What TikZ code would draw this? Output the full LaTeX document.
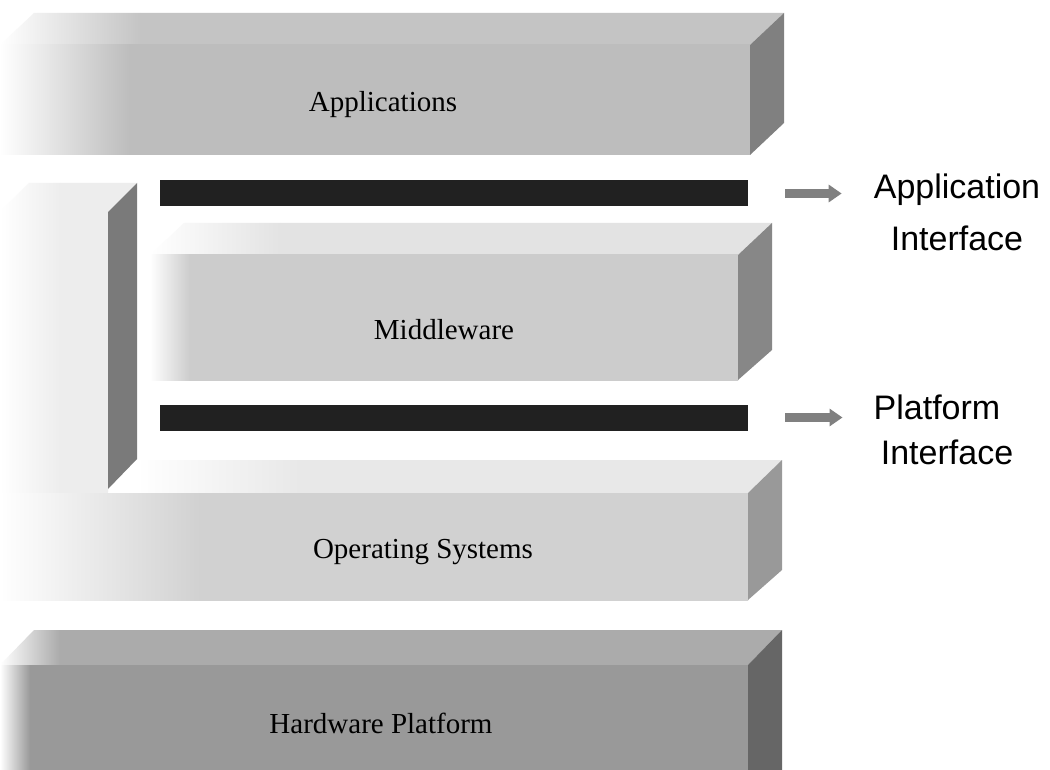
\documentclass[tikz,border=0pt]{standalone}
\usepackage{fontspec}
\setmainfont{Liberation Serif}
\newfontfamily\labelfont{Liberation Sans}
\usetikzlibrary{arrows.meta}

% grey levels of the layer faces
\definecolor{appfront}{gray}{0.74}
\definecolor{apptop}{gray}{0.77}
\definecolor{appside}{gray}{0.50}
\definecolor{midfront}{gray}{0.80}
\definecolor{midtop}{gray}{0.89}
\definecolor{midside}{gray}{0.53}
\definecolor{osfront}{gray}{0.82}
\definecolor{ostop}{gray}{0.91}
\definecolor{osside}{gray}{0.60}
\definecolor{colfront}{gray}{0.93}
\definecolor{colside}{gray}{0.48}
\definecolor{hwfront}{gray}{0.60}
\definecolor{hwtop}{gray}{0.67}
\definecolor{hwside}{gray}{0.40}
\definecolor{barfill}{gray}{0.13}
\definecolor{arrowfill}{gray}{0.50}

% fill a face, fading to white from x=#2 to x=#3 on its left end
\newcommand{\facefill}[4]{%
  \begin{scope}
    \clip #4;
    \shade[left color=white,right color=#1] (#2,0) rectangle (#3,770);
    \fill[#1] (#3,0) rectangle (1050,770);
    \fill[white] (-1,0) rectangle (#2,770);
  \end{scope}}

\tikzset{
  layertext/.style={font=\fontsize{29}{34}\selectfont, inner sep=0pt},
  ifacetext/.style={font=\labelfont\fontsize{34}{40}\selectfont, inner sep=0pt},
  ifacebar/.style={fill=barfill, draw=none, inner sep=0pt,
                   minimum width=588pt, minimum height=26pt},
  ifacearrow/.style={draw=arrowfill, line width=9pt,
                     -{Triangle[width=17pt,length=13pt,fill=arrowfill]}}
}

\begin{document}
\begin{tikzpicture}[x=1pt,y=-1pt]
\useasboundingbox (0,0) rectangle (1050,770);
\fill[white] (0,0) rectangle (1050,770);

% Applications block
\facefill{apptop}{0}{140}{(34,13) -- (784,13) -- (750,45) -- (0,45) -- cycle}
\facefill{appfront}{0}{130}{(0,45) -- (750,45) -- (750,155) -- (0,155) -- cycle}
\fill[appside] (750,45) -- (784,13) -- (784,123) -- (750,155) -- cycle;

% column on the left, joined to the operating systems layer
\facefill{colfront}{0}{60}{(29,183) -- (137,183) -- (108,212) -- (0,212) -- cycle}
\facefill{colfront}{0}{60}{(0,212) -- (108,212) -- (108,600) -- (0,600) -- cycle}
\fill[colside] (108,212) -- (137,183) -- (137,459) -- (108,489) -- cycle;

% Middleware block
\facefill{midtop}{150}{280}{(184,223) -- (772,223) -- (738,255) -- (150,255) -- cycle}
\facefill{midfront}{150}{190}{(150,255) -- (738,255) -- (738,380) -- (150,380) -- cycle}
\fill[midside] (738,255) -- (772,223) -- (772,350) -- (738,380) -- cycle;

% Operating Systems block
\facefill{ostop}{137}{300}{(137,460) -- (782,460) -- (748,493) -- (108,493) -- cycle}
\facefill{osfront}{0}{200}{(0,493) -- (748,493) -- (748,600) -- (0,600) -- cycle}
\fill[osside] (748,493) -- (782,460) -- (782,570) -- (748,600) -- cycle;

% Hardware Platform block
\facefill{hwtop}{0}{60}{(34,630) -- (782,630) -- (748,665) -- (0,665) -- cycle}
\facefill{hwfront}{0}{30}{(0,665) -- (748,665) -- (748,770) -- (0,770) -- cycle}
\fill[hwside] (748,665) -- (782,630) -- (782,770) -- (748,770) -- cycle;

% layer names
\node[layertext] (apps) at (383,105) {Applications};
\node[layertext] (mid)  at (444,330) {Middleware};
\node[layertext] (os)   at (423,552) {Operating Systems};
\node[layertext] (hw)   at (381,723) {Hardware Platform};

% interface bars
\node[ifacebar] (bar1) at (454,193.5) {};
\node[ifacebar] (bar2) at (454,417.5) {};

% interface labels
\node[ifacetext] (ai1) at (957,190) {Application};
\node[ifacetext] (ai2) at (957,238) {Interface};
\node[ifacetext] (pi1) at (937,407) {Platform};
\node[ifacetext] (pi2) at (947,452) {Interface};

% arrows from the bars to their labels
\draw[ifacearrow, shorten <=37pt, shorten >=32pt] (bar1.east) -- (bar1.east -| ai1.west);
\draw[ifacearrow, shorten <=37pt, shorten >=31pt] (bar2.east) -- (bar2.east -| pi1.west);
\end{tikzpicture}
\end{document}
